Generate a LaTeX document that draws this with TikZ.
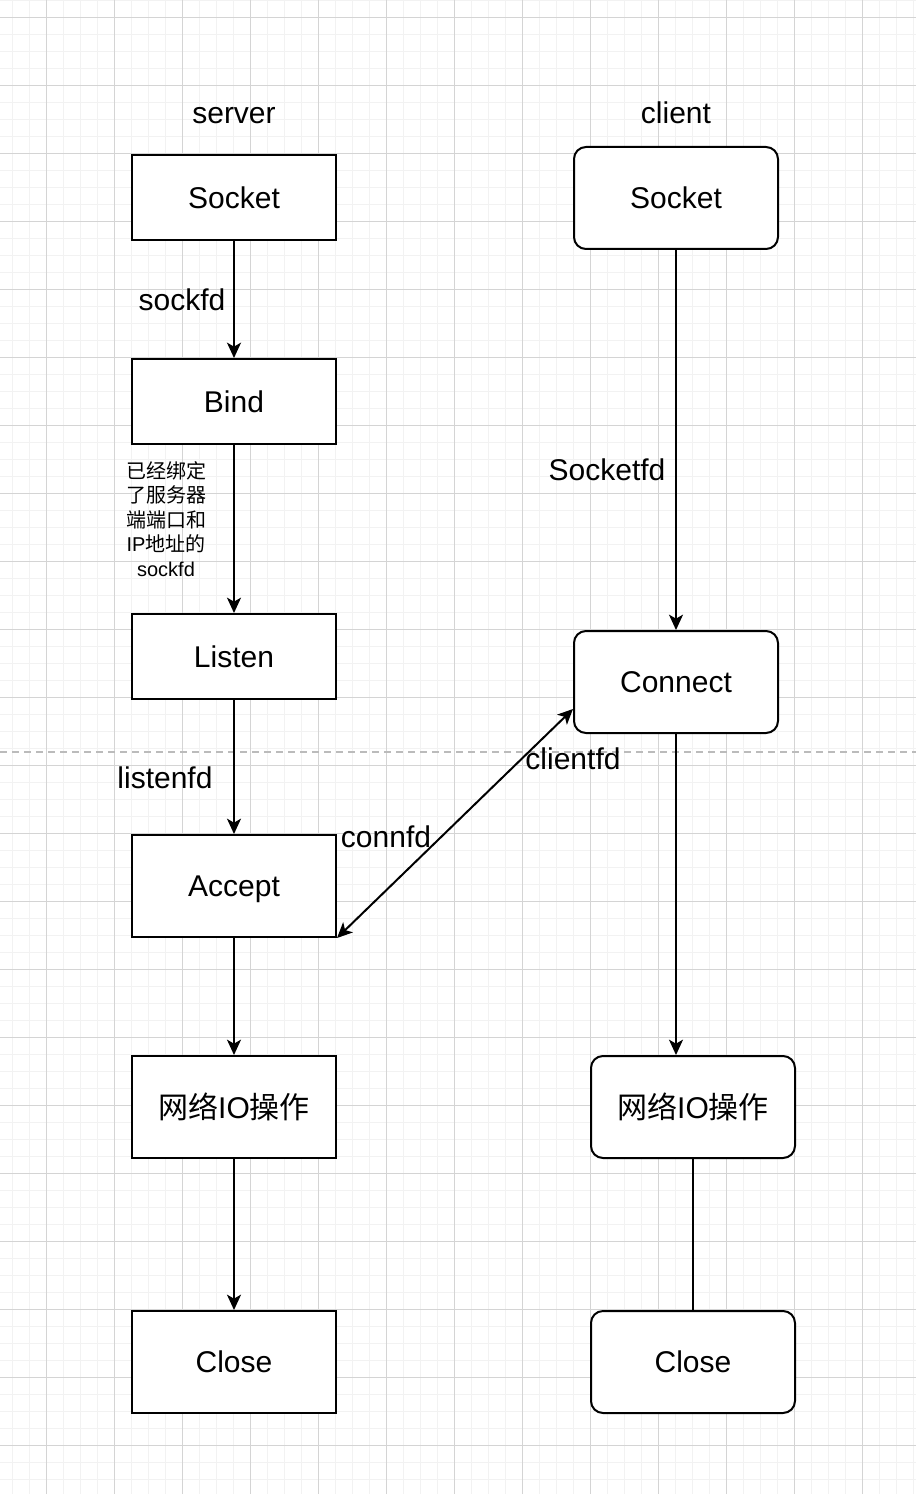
\documentclass[tikz,border=0pt]{standalone}
\usepackage{fontspec}
\setmainfont{Liberation Sans}
\newfontfamily\cjk{Noto Sans CJK SC}
\usetikzlibrary{arrows.meta}
\definecolor{minorgrid}{HTML}{F2F2F2}
\definecolor{majorgrid}{HTML}{D4D4D4}
\definecolor{dashgray}{HTML}{BBBBBB}
\tikzset{
  px/.style={x=0.75pt,y=-0.75pt},
  minorline/.style={draw=minorgrid,line width=0.75pt},
  majorline/.style={draw=majorgrid,line width=0.75pt},
  bigtext/.style={font=\fontsize{22.5pt}{27pt}\selectfont},
  box/.style={draw=black,fill=white,line width=1.5pt,minimum width=153pt,bigtext,inner sep=0pt},
  shortbox/.style={box,minimum height=63.75pt},
  tallbox/.style={box,minimum height=76.5pt},
  roundbox/.style={tallbox,rounded corners=9pt},
  lbl/.style={bigtext,inner sep=0pt},
  arr/.style={line width=1.5pt,-{Stealth[length=11.5pt,width=10.5pt,inset=3pt]}},
  dblarr/.style={line width=1.5pt,{Stealth[length=11.5pt,width=10.5pt,inset=3pt]}-{Stealth[length=11.5pt,width=10.5pt,inset=3pt]}},
  plainline/.style={line width=1.5pt},
  sep/.style={draw=dashgray,line width=0.9pt,dash pattern=on 5.5pt off 3.5pt}
}
\begin{document}
\begin{tikzpicture}[px]
\useasboundingbox (0,0) rectangle (916,1494);
\fill[white] (0,0) rectangle (916,1494);
% grid
\foreach \i in {0,...,53} {\draw[minorline] ({12.3+17*\i},0) -- ({12.3+17*\i},1494);}
\foreach \i in {0,...,87} {\draw[minorline] (0,{0.3+17*\i}) -- (916,{0.3+17*\i});}
\foreach \i in {0,...,12} {\draw[majorline] ({46.3+68*\i},0) -- ({46.3+68*\i},1494);}
\foreach \i in {0,...,21} {\draw[majorline] (0,{17.3+68*\i}) -- (916,{17.3+68*\i});}
% separator
\coordinate (sepL) at (0,752);
\coordinate (sepR) at (916,752);
\draw[sep] (sepL) -- (sepR);
% titles
\node[lbl,anchor=base] (tserver) at (234,123.5) {server};
\node[lbl,anchor=base] (tclient) at (676,123.5) {client};
% server column
\node[shortbox] (s1) at (234,197.5) {Socket};
\node[shortbox] (s2) at (234,401.5) {Bind};
\node[shortbox] (s3) at (234,656.5) {Listen};
\node[tallbox,text depth=0pt] (s4) at (234,886) {Accept};
\node[tallbox] (s5) at (234,1107) {{\cjk 网络}IO{\cjk 操作}};
\node[tallbox] (s6) at (234,1362) {Close};
% client column
\node[roundbox] (c1) at (676,198) {Socket};
\node[roundbox] (c2) at (676,682) {Connect};
\node[roundbox] (c3) at (693,1107) {{\cjk 网络}IO{\cjk 操作}};
\node[roundbox] (c4) at (693,1362) {Close};
% server connectors
\draw[arr] (s1.south) -- (s2.north);
\draw[arr] (s2.south) -- (s3.north);
\draw[arr] (s3.south) -- (s4.north);
\draw[arr] (s4.south) -- (s5.north);
\draw[arr] (s5.south) -- (s6.north);
% client connectors
\draw[arr] (c1.south) -- (c2.north);
\draw[arr] (c2.south) -- (c2.south |- c3.north);
\draw[plainline] (c3.south) -- (c4.north);
% cross connection
\draw[dblarr] (s4.south east) -- ([yshift=-20.25pt]c2.west);
% edge labels
\node[lbl] (lsockfd) at (182,300) {sockfd};
\node[inner sep=0pt,align=center,font=\fontsize{15pt}{18.4pt}\selectfont] (lbound) at (166,519)
  {{\cjk 已经绑定}\\{\cjk 了服务器}\\{\cjk 端端口和}\\IP{\cjk 地址的}\\sockfd};
\node[lbl] (lsocketfd) at (607,470) {Socketfd};
\node[lbl] (llistenfd) at (165,778) {listenfd};
\node[lbl] (lconnfd) at (386,837) {connfd};
\node[lbl] (lclientfd) at (573,759) {clientfd};
\end{tikzpicture}
\end{document}
